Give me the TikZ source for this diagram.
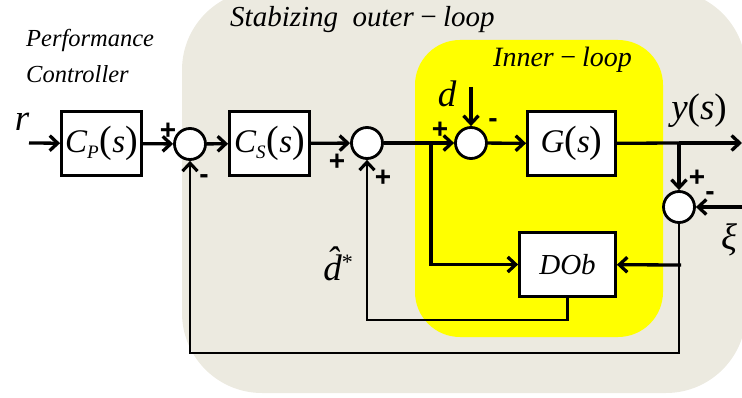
\documentclass[tikz,border=0pt]{standalone}
\usepackage{fontspec}
\setmainfont{Liberation Serif}
\setsansfont{Liberation Sans}
\usetikzlibrary{arrows.meta}
\definecolor{beige}{RGB}{236,234,224}
\definecolor{yel}{RGB}{255,255,0}
\newcommand{\myfs}[1]{\fontsize{#1}{#1}\selectfont}
\begin{document}
\begin{tikzpicture}[x=1pt,y=-1pt,
  blk/.style={draw,line width=2.8pt,fill=white,minimum width=#1,minimum height=64pt,inner sep=0pt},
  sumc/.style={circle,draw,line width=2.8pt,fill=white,minimum size=31pt,inner sep=0pt},
  sig/.style={font=\sffamily\bfseries\myfs{28},inner sep=0pt},
  lab/.style={font=\itshape\myfs{37},inner sep=0pt},
  ttl/.style={font=\itshape,inner sep=0pt,anchor=base west},
  arr/.style={-{Straight Barb[length=8pt,width=15pt]},line width=3.3pt},
  ln/.style={line width=3.3pt},
  thinarr/.style={-{Straight Barb[length=8pt,width=15pt,line width=3.1pt]},line width=2.2pt}
]
\useasboundingbox (0,0) rectangle (742,398);
% backgrounds
\fill[beige,rounded corners=80pt] (182,-10) rectangle (746,393);
\fill[yel,rounded corners=45pt] (415,40) rectangle (663,337);

% titles
\node[ttl,font=\itshape\myfs{29}] (t1) at (230,27) {Stabizing\ \ outer\,−\,loop};
\node[ttl,font=\itshape\myfs{24.5}] (t2) at (26,47) {Performance};
\node[ttl,font=\itshape\myfs{24.5}] (t3) at (26,83) {Controller};
\node[ttl,font=\itshape\myfs{28}] (t4) at (493,67) {Inner\,−\,loop};

% blocks
\node[blk=80pt] (cp) at (101.5,143.5) {{\itshape\myfs{33}C}\raisebox{-6pt}{\itshape\myfs{19}P}\hspace{1pt}{\myfs{38}(}{\itshape\myfs{33}s}{\myfs{38})}};
\node[blk=80pt] (cs) at (269.5,143.5) {{\itshape\myfs{33}C}\raisebox{-6pt}{\itshape\myfs{19}S}\hspace{1pt}{\myfs{38}(}{\itshape\myfs{33}s}{\myfs{38})}};
\node[blk=88pt] (g) at (571.5,143.5) {{\itshape\myfs{33}G}{\myfs{38}(}{\itshape\myfs{33}s}{\myfs{38})}};
\node[blk=96pt] (dob) at (567.5,264.5) {\itshape\myfs{29}DOb};

% summing junctions
\node[sumc] (s1) at (190,144) {};
\node[sumc] (s2) at (367,143) {};
\node[sumc] (s3) at (471,143) {};
\node[sumc] (s4) at (679,207) {};

% coordinates
\coordinate (rin) at (29,143);
\coordinate (br1) at (431,143);
\coordinate (br2) at (679,143);
\coordinate (out) at (742,143);
\coordinate (xi) at (742,207);
\coordinate (dtop) at (471,87);
\coordinate (tee) at (681,265);
\coordinate (fb1) at (679,353);
\coordinate (dobo) at (567.5,320);

% connectors
\draw[arr] (rin) -- (cp);
\draw[arr] (cp) -- (s1);
\draw[arr] (s1) -- (cs);
\draw[arr] (cs) -- (s2);
\draw[ln] (s2) -- (br1);
\draw[arr] (br1) -- (s3);
\draw[arr] (s3) -- (g);
\draw[ln] (g) -- (br2);
\draw[arr] (br2) -- (out);
\draw[arr] (br2) -- (s4);
\draw[arr] (xi) -- (s4);
\draw[arr] (dtop) -- (s3);
\draw[arr] (br1) |- (dob);
\draw[arr] (tee) -- (dob);
\draw[thinarr] (s4) -- (fb1) -| (s1);
\draw[thinarr] (dob) -- (dobo) -| (s2);

% labels
\node[lab] (lr) at (22,122) {r};
\node[lab] (ld) at (447,94) {d};
\node[lab] (ly) at (699,111) {y{\upshape(}s{\upshape)}};
\node[lab] (lxi) at (729,240) {ξ};
\node[lab] (ldh) at (338,264) {\^{d}\raisebox{11pt}{\upshape\myfs{22}*}};

% signs
\node[sig] (p1) at (168,131) {+};
\node[sig] (m1) at (204,179) {-};
\node[sig] (p2) at (337,162) {+};
\node[sig] (p3) at (383,178) {+};
\node[sig] (p4) at (440,130) {+};
\node[sig] (m4) at (493,123) {-};
\node[sig] (p5) at (697,178) {+};
\node[sig] (m5) at (710,196) {-};
\end{tikzpicture}
\end{document}
